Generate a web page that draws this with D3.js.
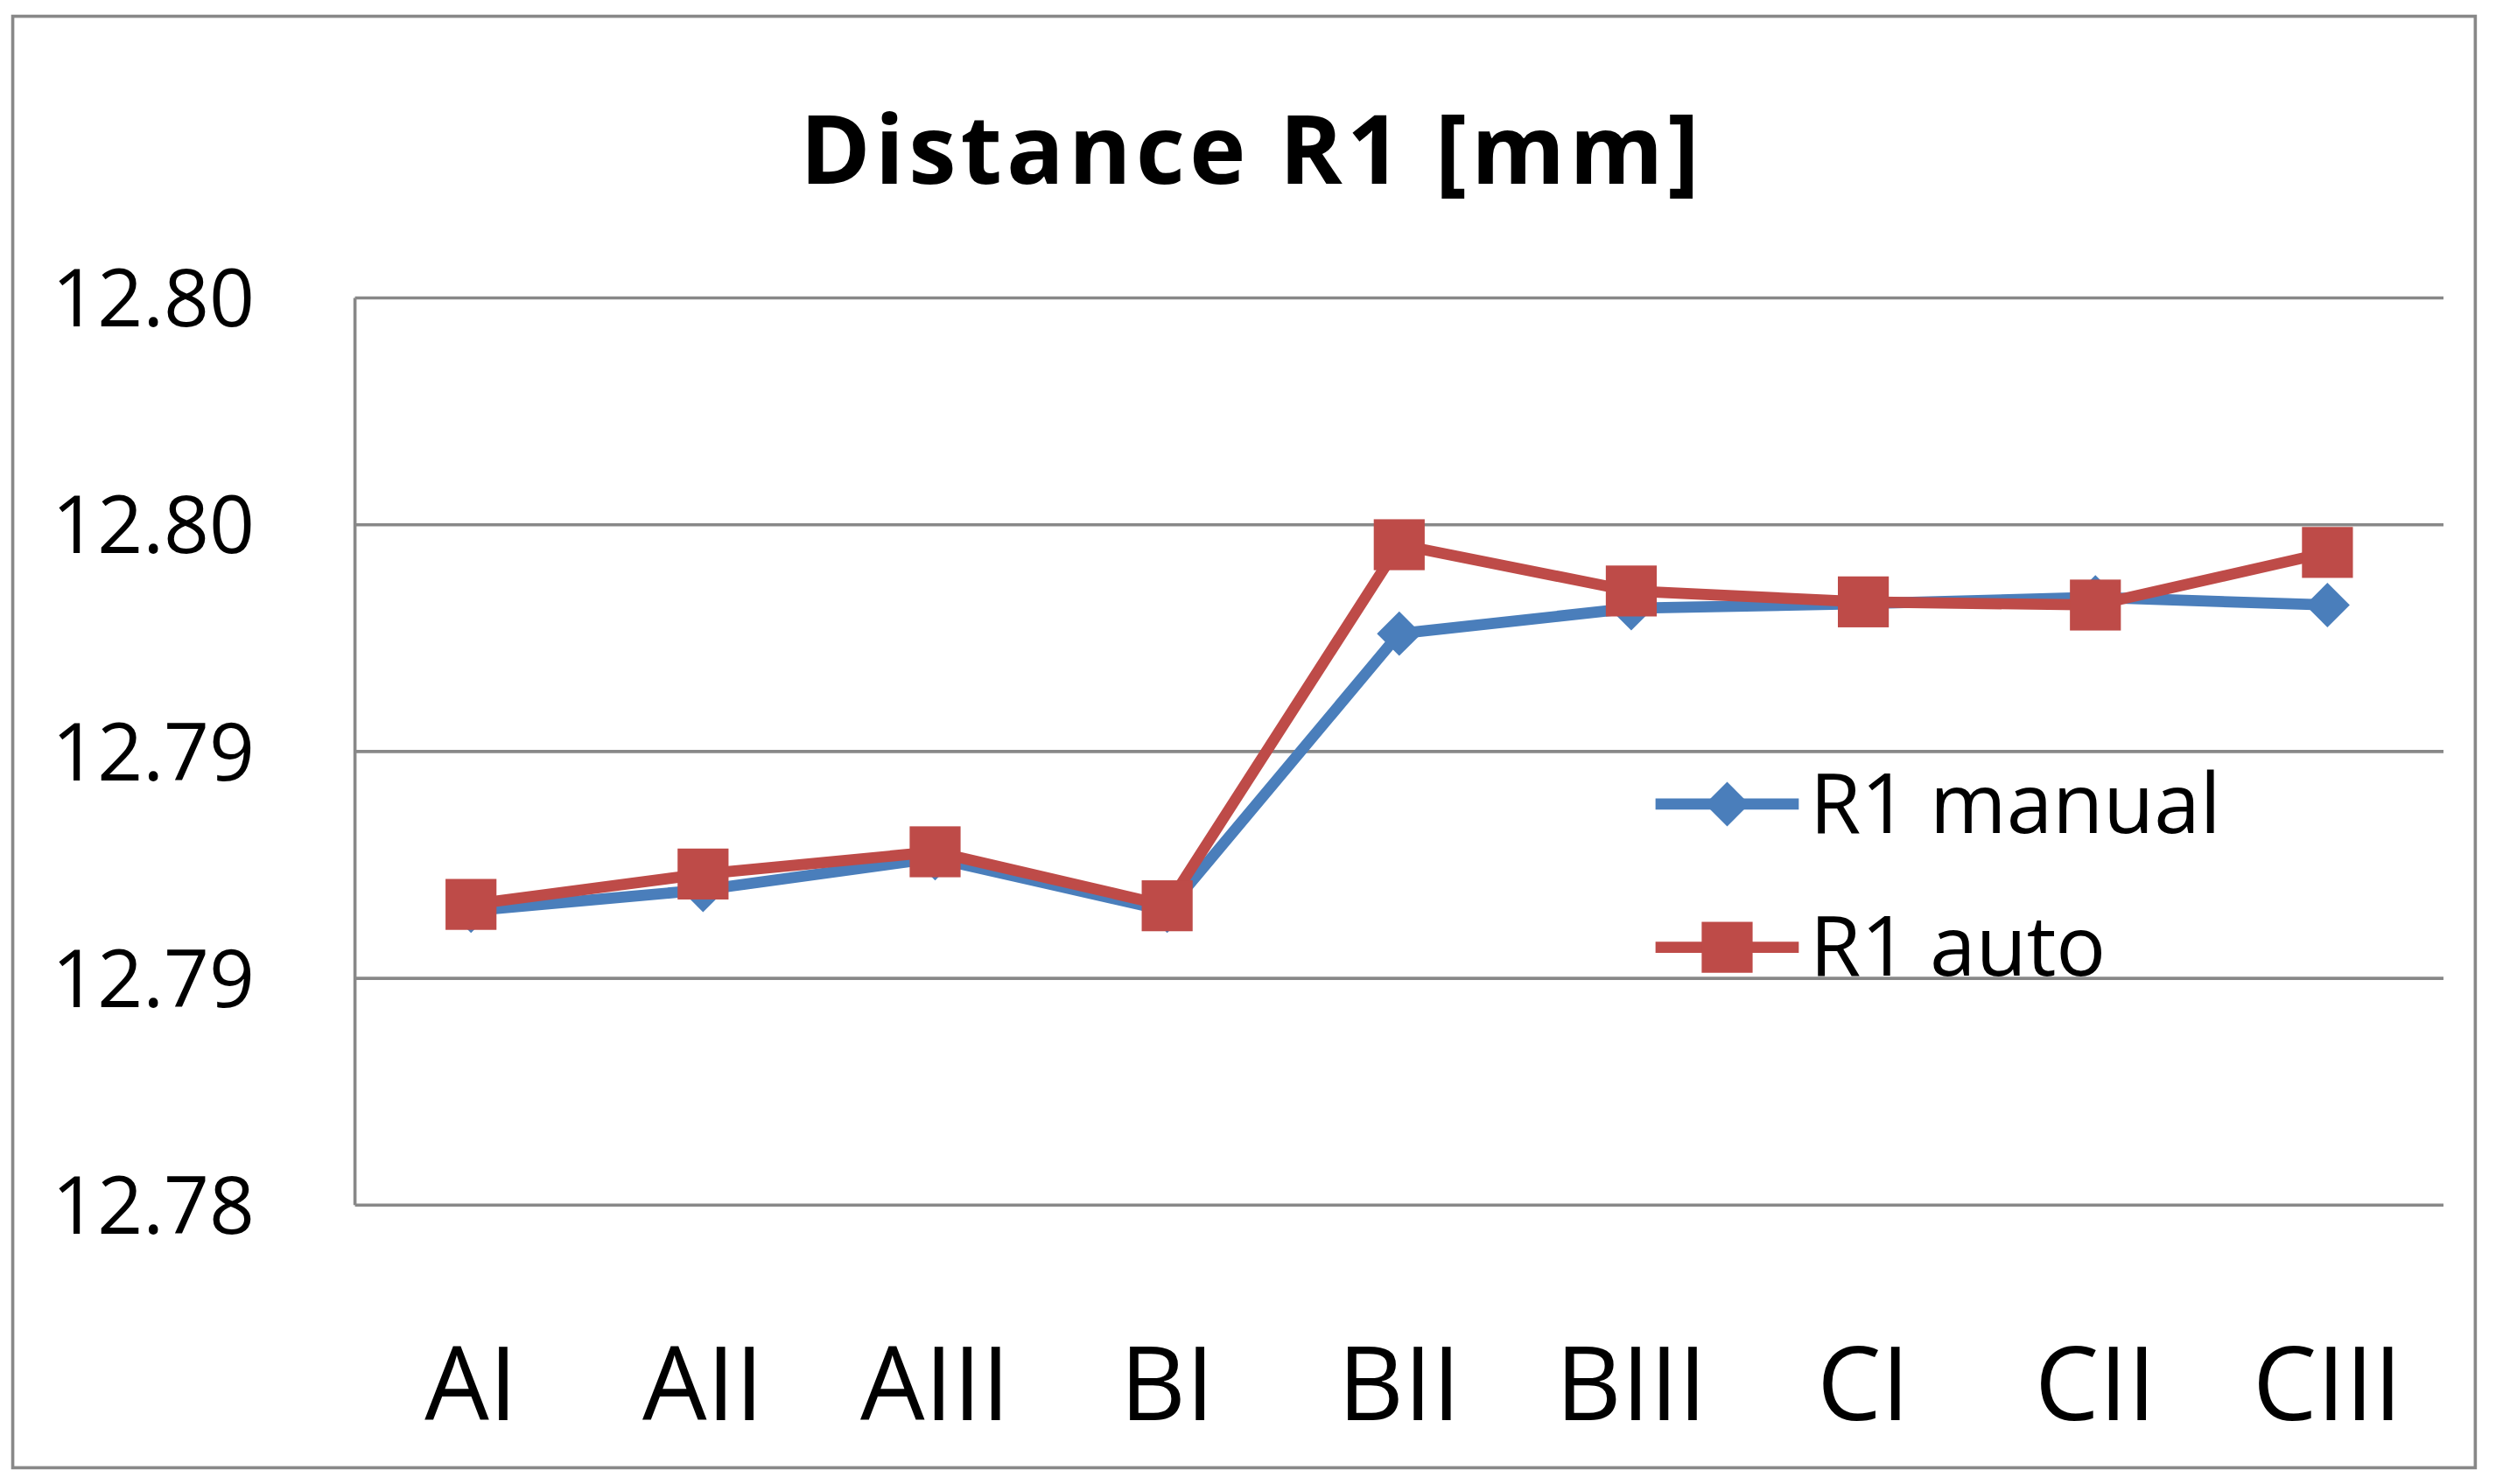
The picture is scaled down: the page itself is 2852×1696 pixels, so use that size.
<!DOCTYPE html>
<meta charset="utf-8">
<title>Distance R1</title>
<style>
html, body { margin: 0; background: #fff; }
svg { display: block; font-family: "Open Sans", "Liberation Sans", sans-serif; }
</style>
<body>
<svg id="chart" width="2852" height="1696" viewBox="0 0 1568 928"></svg>
<script src="https://cdn.jsdelivr.net/npm/d3@7"></script>
<script>
const categories = ["AI", "AII", "AIII", "BI", "BII", "BIII", "CI", "CII", "CIII"];
const manual = [12.78649, 12.78695, 12.78765, 12.78649, 12.79260, 12.79316, 12.79326, 12.79340, 12.79323];
const auto = [12.78663, 12.78730, 12.78779, 12.78660, 12.79456, 12.79354, 12.79330, 12.79323, 12.79439];
const yTicks = [12.78, 12.785, 12.79, 12.795, 12.80];
const yTickLabels = ["12.78", "12.79", "12.79", "12.80", "12.80"];

const svg = d3.select("#chart");
// outer frame
svg.append("rect").attr("x", 8).attr("y", 8).attr("width", 1547).attr("height", 912)
  .attr("fill", "#fff").attr("stroke", "#888").attr("stroke-width", 2);

svg.append("text").attr("x", 785).attr("y", 113).attr("text-anchor", "middle")
  .attr("font-size", 60).attr("font-weight", "bold").attr("textLength", 565)
  .text("Distance R1 [mm]");

const x = d3.scaleBand().domain(categories).range([223, 1535]);
const y = d3.scaleLinear().domain([12.78, 12.80]).range([755, 185]);

// gridlines
svg.append("g").selectAll("line").data(yTicks).join("line")
  .attr("x1", 223).attr("x2", 1535).attr("y1", d => y(d)).attr("y2", d => y(d))
  .attr("stroke", "#888").attr("stroke-width", 2);
svg.append("line").attr("x1", 223).attr("x2", 223).attr("y1", 185).attr("y2", 755)
  .attr("stroke", "#888").attr("stroke-width", 2);

svg.append("g").selectAll("text").data(yTicks).join("text")
  .attr("x", 160).attr("y", d => y(d) + 18).attr("text-anchor", "end")
  .attr("font-size", 50).text((d, i) => yTickLabels[i]);

svg.append("g").selectAll("text").data(categories).join("text")
  .attr("x", d => x(d) + x.bandwidth() / 2).attr("y", 890).attr("text-anchor", "middle")
  .attr("font-size", 64).text(d => d);

const line = d3.line().x((d, i) => x(categories[i]) + x.bandwidth() / 2).y(d => y(d));
const blue = "#4a7ebb", red = "#be4b48";

svg.append("path").datum(manual).attr("d", line).attr("fill", "none")
  .attr("stroke", blue).attr("stroke-width", 7);
svg.append("g").selectAll("path").data(manual).join("path")
  .attr("transform", (d, i) => `translate(${x(categories[i]) + x.bandwidth() / 2},${y(d)})`)
  .attr("d", d3.symbol(d3.symbolDiamond2, 500)()).attr("fill", blue);

svg.append("path").datum(auto).attr("d", line).attr("fill", "none")
  .attr("stroke", red).attr("stroke-width", 7);
svg.append("g").selectAll("rect").data(auto).join("rect")
  .attr("x", (d, i) => x(categories[i]) + x.bandwidth() / 2 - 16).attr("y", d => y(d) - 16)
  .attr("width", 32).attr("height", 32).attr("fill", red);

// legend
const legend = [["R1 manual", blue, "diamond"], ["R1 auto", red, "square"]];
legend.forEach(([label, c, shape], i) => {
  const ly = 503 + i * 90;
  svg.append("line").attr("x1", 1040).attr("x2", 1130).attr("y1", ly).attr("y2", ly)
    .attr("stroke", c).attr("stroke-width", 7);
  if (shape === "diamond") {
    svg.append("path").attr("transform", `translate(1085,${ly})`)
      .attr("d", d3.symbol(d3.symbolDiamond2, 500)()).attr("fill", c);
  } else {
    svg.append("rect").attr("x", 1069).attr("y", ly - 16).attr("width", 32).attr("height", 32).attr("fill", c);
  }
  svg.append("text").attr("x", 1137).attr("y", ly + 18).attr("font-size", 52).text(label);
});
</script>
</body>
